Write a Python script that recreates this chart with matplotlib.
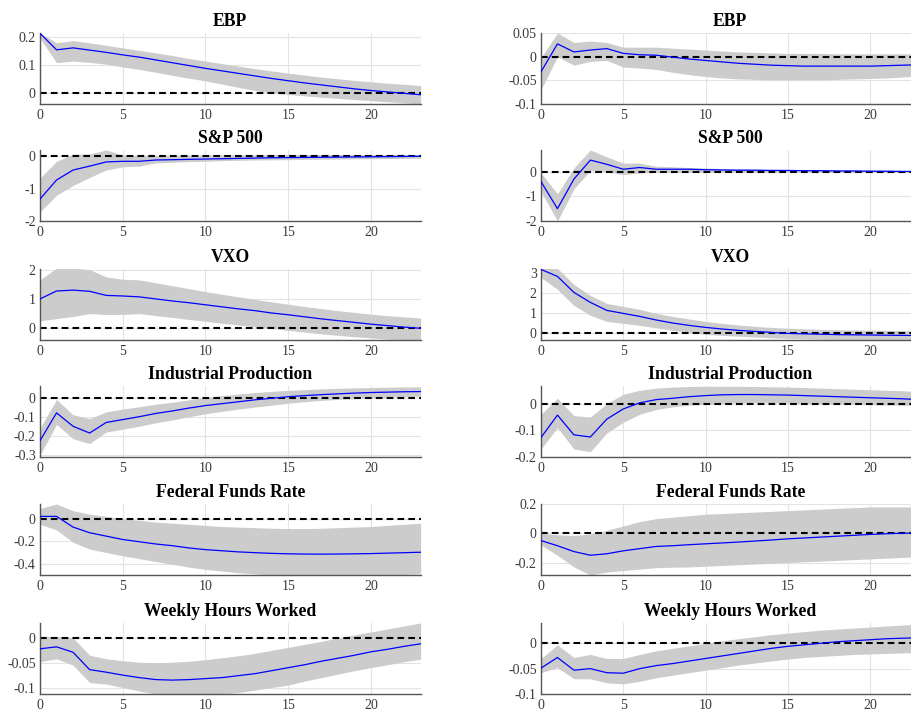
import numpy as np
import matplotlib
matplotlib.use("Agg")
import matplotlib.pyplot as plt

plt.rcParams['font.family'] = ['Liberation Serif', 'DejaVu Serif']
plt.rcParams['axes.unicode_minus'] = False

horizon = np.arange(24)
titles = ["EBP", "S&P 500", "VXO", "Industrial Production",
          "Federal Funds Rate", "Weekly Hours Worked"]

# left column: point estimate, upper and lower band
ebp_l = [0.212, 0.153, 0.160, 0.152, 0.144, 0.135, 0.127, 0.117, 0.107, 0.097, 0.087, 0.078,
         0.069, 0.060, 0.051, 0.043, 0.035, 0.028, 0.021, 0.014, 0.008, 0.003, -0.002, -0.007]
ebp_l_hi = [0.213, 0.178, 0.186, 0.178, 0.169, 0.160, 0.151, 0.142, 0.133, 0.122, 0.113, 0.104,
            0.095, 0.086, 0.078, 0.070, 0.063, 0.056, 0.050, 0.044, 0.039, 0.034, 0.030, 0.026]
ebp_l_lo = [0.194, 0.107, 0.113, 0.108, 0.102, 0.092, 0.083, 0.073, 0.062, 0.052, 0.042, 0.031,
            0.019, 0.008, -0.001, -0.006, -0.011, -0.016, -0.020, -0.024, -0.028, -0.032, -0.036, -0.040]

sp_l = [-1.32, -0.73, -0.42, -0.30, -0.17, -0.15, -0.15, -0.11, -0.10, -0.09, -0.08, -0.07,
        -0.06, -0.05, -0.04, -0.035, -0.03, -0.025, -0.02, -0.015, -0.01, -0.005, 0.0, 0.005]
sp_l_hi = [-0.67, -0.15, 0.07, 0.08, 0.20, 0.05, 0.03, 0.03, 0.04, 0.04, 0.05, 0.05,
           0.05, 0.05, 0.06, 0.06, 0.06, 0.06, 0.06, 0.06, 0.06, 0.06, 0.06, 0.06]
sp_l_lo = [-1.72, -1.20, -0.90, -0.65, -0.42, -0.32, -0.30, -0.20, -0.18, -0.16, -0.15, -0.13,
           -0.12, -0.11, -0.105, -0.10, -0.09, -0.085, -0.08, -0.075, -0.07, -0.065, -0.06, -0.05]

vxo_l = [1.00, 1.27, 1.30, 1.26, 1.12, 1.10, 1.07, 1.00, 0.93, 0.87, 0.80, 0.73,
         0.66, 0.60, 0.52, 0.46, 0.39, 0.32, 0.26, 0.20, 0.14, 0.09, 0.04, 0.00]
vxo_l_hi = [1.65, 2.05, 2.05, 2.00, 1.75, 1.67, 1.65, 1.55, 1.45, 1.35, 1.25, 1.16,
            1.07, 0.98, 0.90, 0.82, 0.74, 0.67, 0.60, 0.54, 0.48, 0.43, 0.39, 0.35]
vxo_l_lo = [0.25, 0.33, 0.40, 0.50, 0.47, 0.47, 0.50, 0.43, 0.37, 0.30, 0.24, 0.17,
            0.11, 0.05, -0.01, -0.07, -0.13, -0.19, -0.24, -0.29, -0.33, -0.37, -0.39, -0.41]

ip_l = [-0.225, -0.080, -0.150, -0.185, -0.130, -0.115, -0.100, -0.083, -0.070, -0.055, -0.042, -0.032,
        -0.022, -0.012, -0.004, 0.004, 0.010, 0.015, 0.019, 0.023, 0.026, 0.028, 0.030, 0.031]
ip_l_hi = [-0.160, -0.010, -0.090, -0.110, -0.075, -0.060, -0.048, -0.035, -0.025, -0.012, 0.000, 0.010,
           0.018, 0.026, 0.032, 0.037, 0.041, 0.045, 0.048, 0.050, 0.052, 0.054, 0.055, 0.056]
ip_l_lo = [-0.300, -0.140, -0.215, -0.240, -0.180, -0.165, -0.150, -0.132, -0.117, -0.100, -0.085, -0.072,
           -0.060, -0.050, -0.040, -0.030, -0.022, -0.015, -0.010, -0.006, -0.002, 0.001, 0.004, 0.006]

ffr_l = [0.020, 0.020, -0.075, -0.125, -0.155, -0.185, -0.205, -0.225, -0.240, -0.260, -0.275, -0.285,
         -0.295, -0.302, -0.308, -0.312, -0.314, -0.315, -0.314, -0.312, -0.310, -0.306, -0.302, -0.298]
ffr_l_hi = [0.090, 0.130, 0.070, 0.040, 0.020, 0.000, -0.015, -0.030, -0.040, -0.050, -0.060, -0.070,
            -0.075, -0.080, -0.085, -0.088, -0.088, -0.085, -0.080, -0.075, -0.070, -0.060, -0.050, -0.040]
ffr_l_lo = [-0.050, -0.100, -0.210, -0.270, -0.300, -0.330, -0.355, -0.380, -0.405, -0.430, -0.450, -0.465,
            -0.480, -0.490, -0.500, -0.505, -0.510, -0.510, -0.510, -0.510, -0.505, -0.500, -0.495, -0.490]

hrs_l = [-0.022, -0.018, -0.029, -0.064, -0.069, -0.075, -0.080, -0.084, -0.085, -0.084, -0.082, -0.080,
         -0.076, -0.072, -0.066, -0.060, -0.054, -0.047, -0.041, -0.035, -0.028, -0.023, -0.017, -0.012]
hrs_l_hi = [0.003, 0.003, 0.000, -0.035, -0.042, -0.046, -0.049, -0.050, -0.049, -0.047, -0.044, -0.040,
            -0.036, -0.031, -0.025, -0.019, -0.013, -0.007, 0.000, 0.006, 0.012, 0.018, 0.024, 0.030]
hrs_l_lo = [-0.048, -0.042, -0.055, -0.090, -0.093, -0.100, -0.107, -0.113, -0.116, -0.117, -0.115, -0.113,
            -0.110, -0.105, -0.100, -0.095, -0.087, -0.080, -0.073, -0.066, -0.060, -0.054, -0.048, -0.043]

# right column
ebp_r = [-0.032, 0.027, 0.010, 0.014, 0.017, 0.007, 0.004, 0.003, -0.001, -0.005, -0.008, -0.011,
         -0.014, -0.016, -0.018, -0.019, -0.020, -0.020, -0.020, -0.020, -0.020, -0.019, -0.018, -0.017]
ebp_r_hi = [-0.002, 0.050, 0.030, 0.033, 0.030, 0.020, 0.020, 0.020, 0.018, 0.016, 0.014, 0.012,
            0.010, 0.009, 0.008, 0.007, 0.007, 0.007, 0.006, 0.006, 0.006, 0.006, 0.006, 0.006]
ebp_r_lo = [-0.070, 0.000, -0.018, -0.010, -0.008, -0.022, -0.024, -0.027, -0.033, -0.038, -0.042, -0.045,
            -0.047, -0.048, -0.049, -0.049, -0.049, -0.049, -0.048, -0.047, -0.046, -0.045, -0.043, -0.040]

sp_r = [-0.40, -1.50, -0.30, 0.47, 0.30, 0.10, 0.17, 0.10, 0.10, 0.10, 0.08, 0.07,
        0.06, 0.06, 0.05, 0.05, 0.04, 0.04, 0.03, 0.03, 0.02, 0.02, 0.01, 0.01]
sp_r_hi = [-0.05, -0.90, 0.15, 0.88, 0.60, 0.35, 0.35, 0.22, 0.20, 0.17, 0.15, 0.13,
           0.12, 0.11, 0.10, 0.09, 0.08, 0.08, 0.07, 0.06, 0.06, 0.05, 0.05, 0.05]
sp_r_lo = [-0.80, -2.00, -0.70, 0.05, 0.00, -0.12, -0.05, -0.03, -0.02, -0.02, -0.02, -0.02,
           -0.02, -0.02, -0.02, -0.02, -0.02, -0.02, -0.03, -0.03, -0.03, -0.03, -0.03, -0.03]

vxo_r = [3.20, 2.85, 2.05, 1.55, 1.15, 1.00, 0.85, 0.67, 0.52, 0.40, 0.30, 0.22,
         0.15, 0.10, 0.05, 0.00, -0.02, -0.04, -0.06, -0.07, -0.08, -0.09, -0.10, -0.10]
vxo_r_hi = [3.25, 3.25, 2.45, 1.90, 1.50, 1.35, 1.20, 1.00, 0.85, 0.72, 0.60, 0.50,
            0.42, 0.35, 0.30, 0.26, 0.23, 0.20, 0.18, 0.17, 0.16, 0.15, 0.14, 0.13]
vxo_r_lo = [2.80, 2.20, 1.40, 0.90, 0.60, 0.50, 0.40, 0.28, 0.15, 0.05, -0.05, -0.10,
            -0.14, -0.18, -0.22, -0.25, -0.27, -0.29, -0.30, -0.31, -0.32, -0.33, -0.33, -0.33]

ip_r = [-0.127, -0.043, -0.117, -0.125, -0.058, -0.020, 0.003, 0.015, 0.020, 0.026, 0.030, 0.033,
        0.034, 0.034, 0.033, 0.032, 0.030, 0.028, 0.026, 0.024, 0.022, 0.020, 0.018, 0.015]
ip_r_hi = [-0.040, 0.020, -0.045, -0.050, 0.000, 0.035, 0.050, 0.058, 0.062, 0.064, 0.065, 0.065,
           0.065, 0.064, 0.063, 0.062, 0.060, 0.058, 0.056, 0.054, 0.052, 0.050, 0.048, 0.045]
ip_r_lo = [-0.170, -0.090, -0.170, -0.180, -0.110, -0.070, -0.040, -0.022, -0.012, -0.006, -0.002, 0.000,
           0.002, 0.003, 0.003, 0.002, 0.000, -0.001, -0.002, -0.003, -0.004, -0.005, -0.006, -0.007]

ffr_r = [-0.050, -0.085, -0.125, -0.150, -0.140, -0.120, -0.105, -0.090, -0.085, -0.078, -0.072, -0.066,
         -0.060, -0.053, -0.046, -0.038, -0.032, -0.026, -0.020, -0.014, -0.008, -0.003, 0.000, 0.002]
ffr_r_hi = [0.000, -0.010, -0.015, -0.005, 0.020, 0.050, 0.080, 0.100, 0.110, 0.120, 0.130, 0.135,
            0.140, 0.145, 0.150, 0.155, 0.160, 0.165, 0.170, 0.175, 0.180, 0.180, 0.180, 0.180]
ffr_r_lo = [-0.080, -0.150, -0.230, -0.285, -0.265, -0.255, -0.245, -0.235, -0.232, -0.230, -0.225, -0.220,
            -0.215, -0.210, -0.205, -0.200, -0.195, -0.190, -0.185, -0.180, -0.175, -0.170, -0.165, -0.160]

hrs_r = [-0.049, -0.028, -0.053, -0.050, -0.058, -0.059, -0.050, -0.044, -0.040, -0.035, -0.030, -0.025,
         -0.020, -0.015, -0.010, -0.006, -0.003, 0.000, 0.003, 0.005, 0.007, 0.009, 0.010, 0.011]
hrs_r_hi = [-0.030, -0.003, -0.028, -0.022, -0.030, -0.030, -0.022, -0.015, -0.010, -0.005, 0.000, 0.005,
            0.009, 0.013, 0.017, 0.020, 0.023, 0.026, 0.028, 0.030, 0.032, 0.034, 0.036, 0.038]
hrs_r_lo = [-0.058, -0.048, -0.070, -0.070, -0.078, -0.080, -0.075, -0.068, -0.063, -0.058, -0.053, -0.048,
            -0.043, -0.039, -0.035, -0.031, -0.028, -0.026, -0.024, -0.022, -0.021, -0.020, -0.019, -0.018]

left_series = [(ebp_l, ebp_l_hi, ebp_l_lo), (sp_l, sp_l_hi, sp_l_lo), (vxo_l, vxo_l_hi, vxo_l_lo),
               (ip_l, ip_l_hi, ip_l_lo), (ffr_l, ffr_l_hi, ffr_l_lo), (hrs_l, hrs_l_hi, hrs_l_lo)]
right_series = [(ebp_r, ebp_r_hi, ebp_r_lo), (sp_r, sp_r_hi, sp_r_lo), (vxo_r, vxo_r_hi, vxo_r_lo),
                (ip_r, ip_r_hi, ip_r_lo), (ffr_r, ffr_r_hi, ffr_r_lo), (hrs_r, hrs_r_hi, hrs_r_lo)]

left_ylims = [(-0.04, 0.213), (-2, 0.2), (-0.4, 2.02), (-0.31, 0.06), (-0.5, 0.13), (-0.113, 0.03)]
right_ylims = [(-0.1, 0.05), (-2, 0.88), (-0.33, 3.22), (-0.2, 0.066), (-0.285, 0.2), (-0.1, 0.04)]
left_yticks = [[0, 0.1, 0.2], [-2, -1, 0], [0, 1, 2], [-0.3, -0.2, -0.1, 0],
               [-0.4, -0.2, 0], [-0.1, -0.05, 0]]
right_yticks = [[-0.1, -0.05, 0, 0.05], [-2, -1, 0], [0, 1, 2, 3], [-0.2, -0.1, 0],
                [-0.2, 0, 0.2], [-0.1, -0.05, 0]]

W, H = 911, 710
fig = plt.figure(figsize=(W / 100, H / 100), dpi=100)

# panel geometry in pixels (right column runs a little past the edge)
tops = [33, 150, 269, 386, 504, 623]
height = 71
col_left = [40, 541]
col_width = [380.6, 378.4]


def draw_panel(ax, title, series, ylim, yticks):
    est, hi, lo = series
    ax.fill_between(horizon, lo, hi, color='#cccccc', lw=0, zorder=1)
    ax.plot(horizon, est, color='#0000ff', lw=0.9, zorder=3)
    ax.axhline(0, color='black', lw=1.5, ls=(0, (3.2, 2.0)), zorder=2)
    ax.set_xlim(0, 23)
    ax.set_ylim(*ylim)
    ax.set_xticks([0, 5, 10, 15, 20])
    ax.set_yticks(yticks)
    ax.set_yticklabels(['%g' % v for v in yticks])
    ax.grid(True, color='#e3e3e3', lw=0.8, zorder=0)
    ax.set_axisbelow(True)
    for side in ['top', 'right']:
        ax.spines[side].set_visible(False)
    for side in ['left', 'bottom']:
        ax.spines[side].set_color('#555555')
        ax.spines[side].set_linewidth(1.0)
    ax.tick_params(length=0, labelsize=10, labelcolor='#3a3a3a')
    ax.tick_params(axis='x', pad=3.5)
    ax.tick_params(axis='y', pad=3)
    ax.set_title(title, fontsize=12.7, fontweight='bold', pad=5)


for col in range(2):
    for row in range(6):
        l = col_left[col] / W
        b = 1 - (tops[row] + height) / H
        ax = fig.add_axes([l, b, col_width[col] / W, height / H])
        if col == 0:
            draw_panel(ax, titles[row], left_series[row], left_ylims[row], left_yticks[row])
        else:
            draw_panel(ax, titles[row], right_series[row], right_ylims[row], right_yticks[row])

fig.savefig('out.png', dpi=100)
